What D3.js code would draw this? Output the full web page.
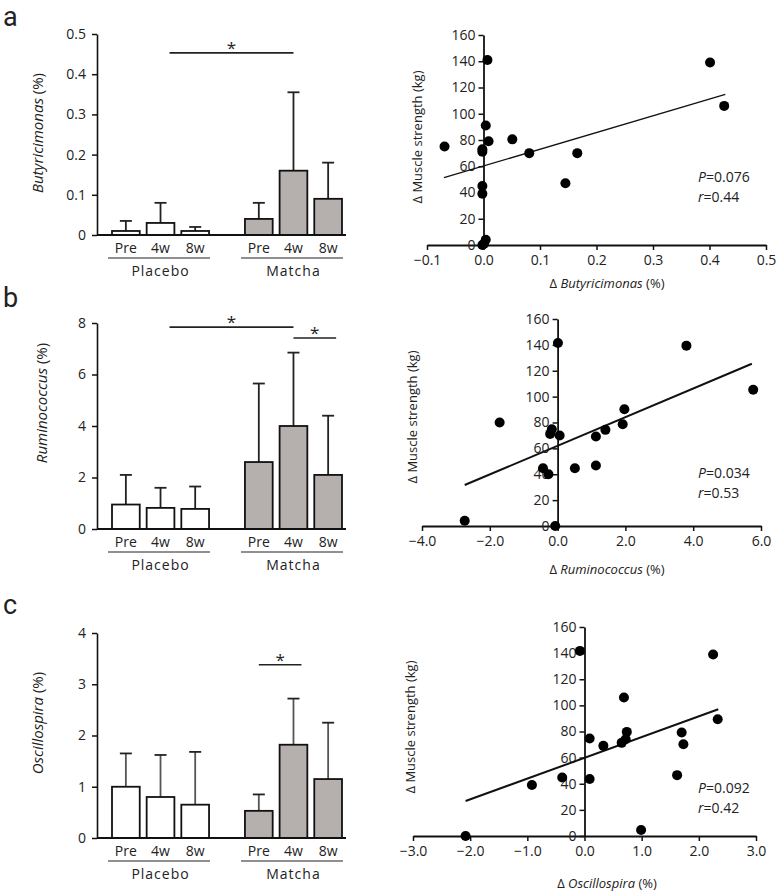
<!DOCTYPE html>
<html><head><meta charset="utf-8">
<script src="https://cdn.jsdelivr.net/npm/d3@7"></script>
<style>
body{margin:0;background:#fff;}
text{font-family:"Open Sans",sans-serif;fill:#222;}
</style></head>
<body>
<script>
// ---------- data ----------
const groups = ["Placebo", "Matcha"];
const times = ["Pre", "4w", "8w"];

const butyPlaceboMean = [0.01, 0.03, 0.01];
const butyPlaceboSD   = [0.025, 0.05, 0.01];
const butyMatchaMean  = [0.04, 0.16, 0.09];
const butyMatchaSD    = [0.04, 0.195, 0.09];
const butyTicks = [0, 0.1, 0.2, 0.3, 0.4, 0.5];

const rumiPlaceboMean = [0.95, 0.82, 0.78];
const rumiPlaceboSD   = [1.15, 0.78, 0.87];
const rumiMatchaMean  = [2.6, 4.0, 2.1];
const rumiMatchaSD    = [3.05, 2.85, 2.3];
const rumiTicks = [0, 2, 4, 6, 8];

const osciPlaceboMean = [1.0, 0.8, 0.65];
const osciPlaceboSD   = [0.65, 0.82, 1.03];
const osciMatchaMean  = [0.53, 1.82, 1.15];
const osciMatchaSD    = [0.32, 0.9, 1.1];
const osciTicks = [0, 1, 2, 3, 4];

// significance brackets: [group1, time1, group2, time2, level]
const butySig = [["Placebo", "4w", "Matcha", "4w", 0.453]];
const rumiSig = [["Placebo", "4w", "Matcha", "4w", 7.84], ["Matcha", "4w", "Matcha", "8w", 7.42]];
const osciSig = [["Matcha", "Pre", "Matcha", "4w", 3.38]];

const strengthTicks = [0, 20, 40, 60, 80, 100, 120, 140, 160];

const butyX = [0.007, 0.401, 0.426, 0.004, -0.069, -0.002, -0.002, 0.009, 0.051, 0.081, 0.166, 0.145, -0.002, -0.002, 0.004, -0.002, 0.001];
const butyY = [141, 139, 106, 91, 75, 73, 71, 79, 80.5, 70, 70, 47, 45, 39, 4, 0, 1];
const butyFit = [[-0.07, 51.3], [0.428, 114.7]];
const butyTicksX = [-0.1, 0, 0.1, 0.2, 0.3, 0.4, 0.5];

const rumiX = [0.01, 3.80, 5.77, 1.97, -1.71, 1.92, -0.17, -0.22, 0.06, 1.13, 1.41, 0.51, 1.13, -0.43, -0.27, -2.74, -0.07];
const rumiY = [141.4, 139.4, 105.3, 90.3, 80, 78.7, 74.8, 71.2, 70, 69.2, 74.3, 44.6, 46.7, 44.6, 40, 4.1, 0];
const rumiFit = [[-2.74, 31.7], [5.73, 125.4]];
const rumiTicksX = [-4, -2, 0, 2, 4, 6];

const osciX = [-0.08, 2.25, 0.69, 2.33, 0.74, 1.70, 1.73, 0.09, 0.33, 0.65, 0.72, 1.62, 0.09, -0.39, -0.92, -2.08, 0.99];
const osciY = [141.7, 139, 106, 89.4, 79.7, 79.2, 70.3, 74.6, 69, 71.3, 74, 46.6, 43.6, 44.8, 39, 0, 4.6];
const osciFit = [[-2.08, 26.8], [2.34, 97]];
const osciTicksX = [-3, -2, -1, 0, 1, 2, 3];

const stats = [["0.076", "0.44"], ["0.034", "0.53"], ["0.092", "0.42"]];
const panelLetters = ["a", "b", "c"];

// ---------- drawing ----------
const svg = d3.select("body").append("svg").attr("width", 777).attr("height", 893);

const outer = d3.scaleBand().domain(groups).range([112, 342]).paddingInner(0.27).paddingOuter(0);
const inner = d3.scaleBand().domain(times).range([0, outer.bandwidth()]).paddingInner(0.2).paddingOuter(0);
const fills = {Placebo: "#ffffff", Matcha: "#b5b0ad"};

function drawBars(o) {
  const g = svg.append("g");
  const y = d3.scaleLinear().domain([0, o.max]).range([o.y0, o.y1]);
  const ax = g.append("g").attr("transform", "translate(97,0)")
    .call(d3.axisLeft(y).tickValues(o.ticks).tickSize(5).tickSizeOuter(0).tickPadding(6).tickFormat(o.fmt));
  ax.select(".domain").attr("stroke", "#111").attr("stroke-width", 1.6);
  ax.selectAll(".tick line").attr("stroke", "#111").attr("stroke-width", 1.5);
  ax.selectAll("text").style("font-size", "14px").attr("fill", "#222");

  const data = [];
  groups.forEach((gr, gi) => times.forEach((t, ti) => {
    data.push({g: gr, t: t, m: gi ? o.mm[ti] : o.pm[ti], sd: gi ? o.ms[ti] : o.ps[ti]});
  }));
  const xb = d => outer(d.g) + inner(d.t);
  const bw = inner.bandwidth();
  // error bars
  g.selectAll(".eb").data(data).enter().append("line")
    .attr("x1", d => xb(d) + bw / 2).attr("x2", d => xb(d) + bw / 2)
    .attr("y1", d => y(d.m)).attr("y2", d => y(d.m + d.sd))
    .attr("stroke", o.ebColor || "#222").attr("stroke-width", 1.8);
  g.selectAll(".cap").data(data).enter().append("line")
    .attr("x1", d => xb(d) + bw / 2 - 6).attr("x2", d => xb(d) + bw / 2 + 6)
    .attr("y1", d => y(d.m + d.sd)).attr("y2", d => y(d.m + d.sd))
    .attr("stroke", "#222").attr("stroke-width", 1.8);
  g.selectAll(".bar").data(data).enter().append("rect")
    .attr("x", d => xb(d)).attr("width", bw)
    .attr("y", d => y(d.m)).attr("height", d => y(0) - y(d.m))
    .attr("fill", d => fills[d.g]).attr("stroke", "#111").attr("stroke-width", 1.8);
  // baseline
  g.append("line").attr("x1", 97).attr("x2", 346).attr("y1", y(0)).attr("y2", y(0))
    .attr("stroke", "#111").attr("stroke-width", 1.8);
  // category labels
  g.selectAll(".cl").data(data).enter().append("text")
    .attr("x", d => xb(d) + bw / 2).attr("y", y(0) + 18)
    .attr("text-anchor", "middle").style("font-size", "14px").text(d => d.t);
  groups.forEach(gr => {
    g.append("line").attr("x1", outer(gr) - 4).attr("x2", outer(gr) + outer.bandwidth() + 1)
      .attr("y1", y(0) + 23).attr("y2", y(0) + 23).attr("stroke", "#222").attr("stroke-width", 1.2);
    g.append("text").attr("x", outer(gr) + outer.bandwidth() / 2).attr("y", y(0) + 41)
      .attr("text-anchor", "middle").style("font-size", "14px").style("letter-spacing", "1px").text(gr);
  });
  // significance
  o.sig.forEach(s => {
    const xa = outer(s[0]) + inner(s[1]) + bw / 2 + (s[0] !== s[2] ? 9 : 0);
    const xe = outer(s[2]) + inner(s[3]) + bw / 2 + (s[0] !== s[2] ? 0 : 8);
    g.append("line").attr("x1", xa).attr("x2", xe).attr("y1", y(s[4])).attr("y2", y(s[4]))
      .attr("stroke", "#222").attr("stroke-width", 1.6);
    g.append("text").attr("x", (xa + xe) / 2).attr("y", y(s[4]) + 1)
      .attr("text-anchor", "middle").style("font-size", "17px").text("*");
  });
  // y title
  const t = g.append("text").attr("transform", `translate(${o.tx},${o.ty}) rotate(-90)`)
    .attr("text-anchor", "middle").style("font-size", "15px");
  t.append("tspan").style("font-style", "italic").text(o.label);
  t.append("tspan").text(" (%)");
}

function drawScatter(o) {
  const g = svg.append("g");
  const x = d3.scaleLinear().domain(o.xd).range(o.xr);
  const y = d3.scaleLinear().domain([0, 160]).range(o.yr);
  const ax = g.append("g").attr("transform", `translate(0,${y(0)})`)
    .call(d3.axisBottom(x).tickValues(o.xt).tickSize(5).tickSizeOuter(0).tickPadding(5).tickFormat(d3.format(".1f")));
  const ay = g.append("g").attr("transform", `translate(${x(0)},0)`)
    .call(d3.axisLeft(y).tickValues(strengthTicks).tickSize(5).tickSizeOuter(0).tickPadding(3).tickFormat(d3.format("d")));
  [ax, ay].forEach(a => {
    a.select(".domain").attr("stroke", "#111").attr("stroke-width", 1.8);
    a.selectAll(".tick line").attr("stroke", "#111").attr("stroke-width", 1.5);
    a.selectAll("text").style("font-size", "14px").attr("fill", "#222");
  });
  g.append("line").attr("x1", x(o.fit[0][0])).attr("y1", y(o.fit[0][1]))
    .attr("x2", x(o.fit[1][0])).attr("y2", y(o.fit[1][1]))
    .attr("stroke", "#111").attr("stroke-width", o.lw);
  g.selectAll("circle").data(o.xs.map((v, i) => [v, o.ys[i]])).enter().append("circle")
    .attr("cx", d => x(d[0])).attr("cy", d => y(d[1])).attr("r", 5).attr("fill", "#000");
  // titles
  const xt = g.append("text").attr("x", o.xtx).attr("y", o.xty).attr("text-anchor", "middle").style("font-size", "13px");
  xt.append("tspan").text("Δ ");
  xt.append("tspan").style("font-style", "italic").text(o.label);
  xt.append("tspan").text(" (%)");
  g.append("text").attr("transform", `translate(${o.ytx},${o.yty}) rotate(-90)`)
    .attr("text-anchor", "middle").style("font-size", "13px").text("Δ Muscle strength (kg)");
  const p = g.append("text").attr("x", 698).attr("y", o.py).style("font-size", "14px");
  p.append("tspan").style("font-style", "italic").text("P");
  p.append("tspan").text("=" + o.st[0]);
  const r = g.append("text").attr("x", 698).attr("y", o.py + 20).style("font-size", "14px");
  r.append("tspan").style("font-style", "italic").text("r");
  r.append("tspan").text("=" + o.st[1]);
}

const fmtA = d => d === 0 ? "0" : d3.format(".1f")(d);
drawBars({max: 0.5, y0: 235, y1: 34, ticks: butyTicks, fmt: fmtA, pm: butyPlaceboMean, ps: butyPlaceboSD,
  mm: butyMatchaMean, ms: butyMatchaSD, sig: butySig, label: "Butyricimonas", tx: 43, ty: 133});
drawBars({max: 8, y0: 529, y1: 323, ticks: rumiTicks, fmt: d3.format("d"), pm: rumiPlaceboMean, ps: rumiPlaceboSD,
  mm: rumiMatchaMean, ms: rumiMatchaSD, sig: rumiSig, label: "Ruminococcus", tx: 47, ty: 403});
drawBars({max: 4, y0: 838, y1: 633, ticks: osciTicks, fmt: d3.format("d"), pm: osciPlaceboMean, ps: osciPlaceboSD,
  mm: osciMatchaMean, ms: osciMatchaSD, sig: osciSig, label: "Oscillospira", tx: 43, ty: 723, ebColor: "#555"});

drawScatter({xd: [-0.1, 0.5], xr: [427, 766], yr: [245, 35], xt: butyTicksX, xs: butyX, ys: butyY, fit: butyFit, lw: 1.3,
  label: "Butyricimonas", xtx: 607, xty: 288, ytx: 422, yty: 137, py: 182, st: stats[0]});
drawScatter({xd: [-4, 6], xr: [422, 761], yr: [526, 319], xt: rumiTicksX, xs: rumiX, ys: rumiY, fit: rumiFit, lw: 2,
  label: "Ruminococcus", xtx: 607, xty: 574, ytx: 417, yty: 417, py: 478, st: stats[1]});
drawScatter({xd: [-3, 3], xr: [413, 756], yr: [836, 627], xt: osciTicksX, xs: osciX, ys: osciY, fit: osciFit, lw: 2,
  label: "Oscillospira", xtx: 607, xty: 888, ytx: 415, yty: 727, py: 793, st: stats[2]});

// panel letters
const letterY = [26, 307, 614];
panelLetters.forEach((l, i) => {
  svg.append("text").attr("x", 3).attr("y", letterY[i])
    .style("font-family", "Roboto").style("font-size", "27px").text(l);
});
</script>
</body></html>
